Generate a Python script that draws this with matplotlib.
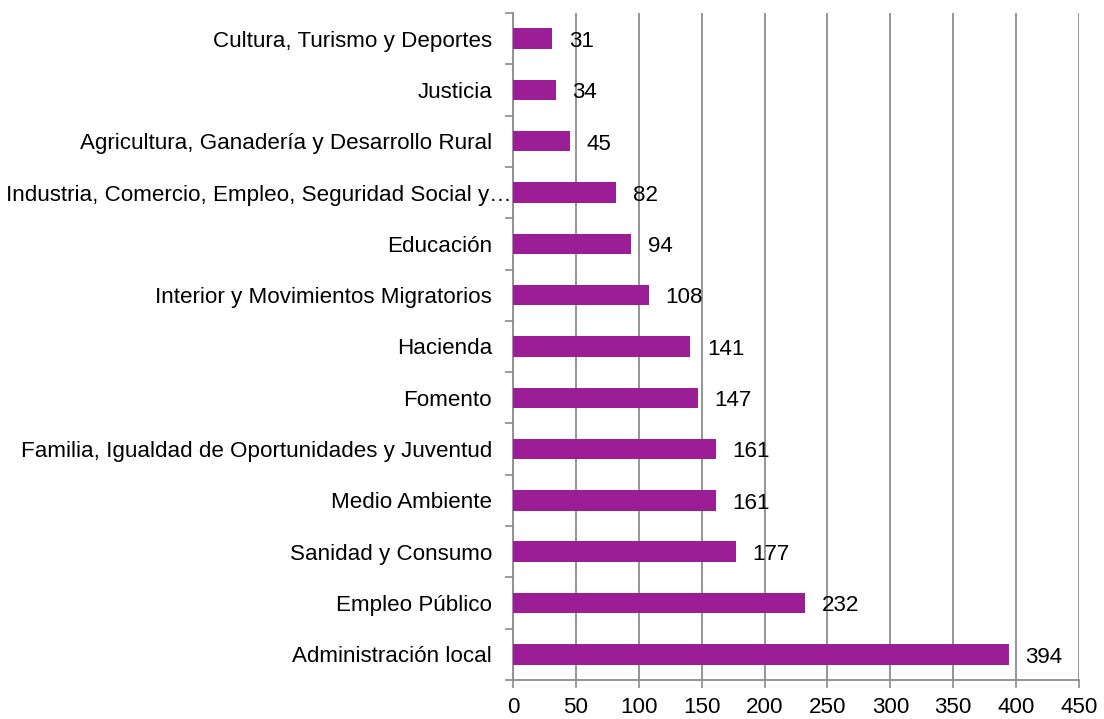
import matplotlib
matplotlib.use('Agg')
import matplotlib.pyplot as plt
import matplotlib.transforms as mtransforms
import numpy as np

categories = [
    'Cultura, Turismo y Deportes',
    'Justicia',
    'Agricultura, Ganadería y Desarrollo Rural',
    'Industria, Comercio, Empleo, Seguridad Social y…',
    'Educación',
    'Interior y Movimientos Migratorios',
    'Hacienda',
    'Fomento',
    'Familia, Igualdad de Oportunidades y Juventud',
    'Medio Ambiente',
    'Sanidad y Consumo',
    'Empleo Público',
    'Administración local',
]
values = [31, 34, 45, 82, 94, 108, 141, 147, 161, 161, 177, 232, 394]
xticks = [0, 50, 100, 150, 200, 250, 300, 350, 400, 450]

plt.rcParams['font.family'] = ['Liberation Sans', 'DejaVu Sans']
fs = 16.1
fig = plt.figure(figsize=(11.04, 7.19), dpi=100)
ax = fig.add_axes([0.4647, 0.0542, 0.9774 - 0.4647, 0.982 - 0.0542])

y = np.arange(len(categories))
ax.barh(y, values, height=0.4, color='#9B1E96', zorder=3)
for yi, v in zip(y, values):
    ax.annotate(str(v), (v, yi), xytext=(12, -2), textcoords='offset points',
                ha='left', va='center', fontsize=fs, color='black', zorder=4)

ax.set_xlim(0, 450)
ax.set_ylim(len(categories) - 0.5, -0.5)
ax.set_xticks(xticks)
ax.set_yticks(y)
ax.set_yticklabels(categories)
ax.set_yticks(np.arange(len(categories) + 1) - 0.5, minor=True)
ax.tick_params(axis='y', which='major', length=0, pad=15, labelsize=fs)
ax.tick_params(axis='y', which='minor', length=6, width=1.2, color='#8c8c8c', direction='out')
ax.tick_params(axis='x', length=6, width=1.2, color='#8c8c8c', direction='out', labelsize=fs, pad=6)

# the truncated label sits closer to the axis
lab = ax.get_yticklabels()[3]
lab.set_transform(lab.get_transform() + mtransforms.ScaledTranslation(0.19, 0, fig.dpi_scale_trans))

ax.grid(axis='x', color='#8c8c8c', linewidth=1.3, zorder=0)
for s in ['top', 'right']:
    ax.spines[s].set_visible(False)
for s in ['left', 'bottom']:
    ax.spines[s].set_color('#8c8c8c')
    ax.spines[s].set_linewidth(1.3)

fig.savefig('out.png', dpi=100)
